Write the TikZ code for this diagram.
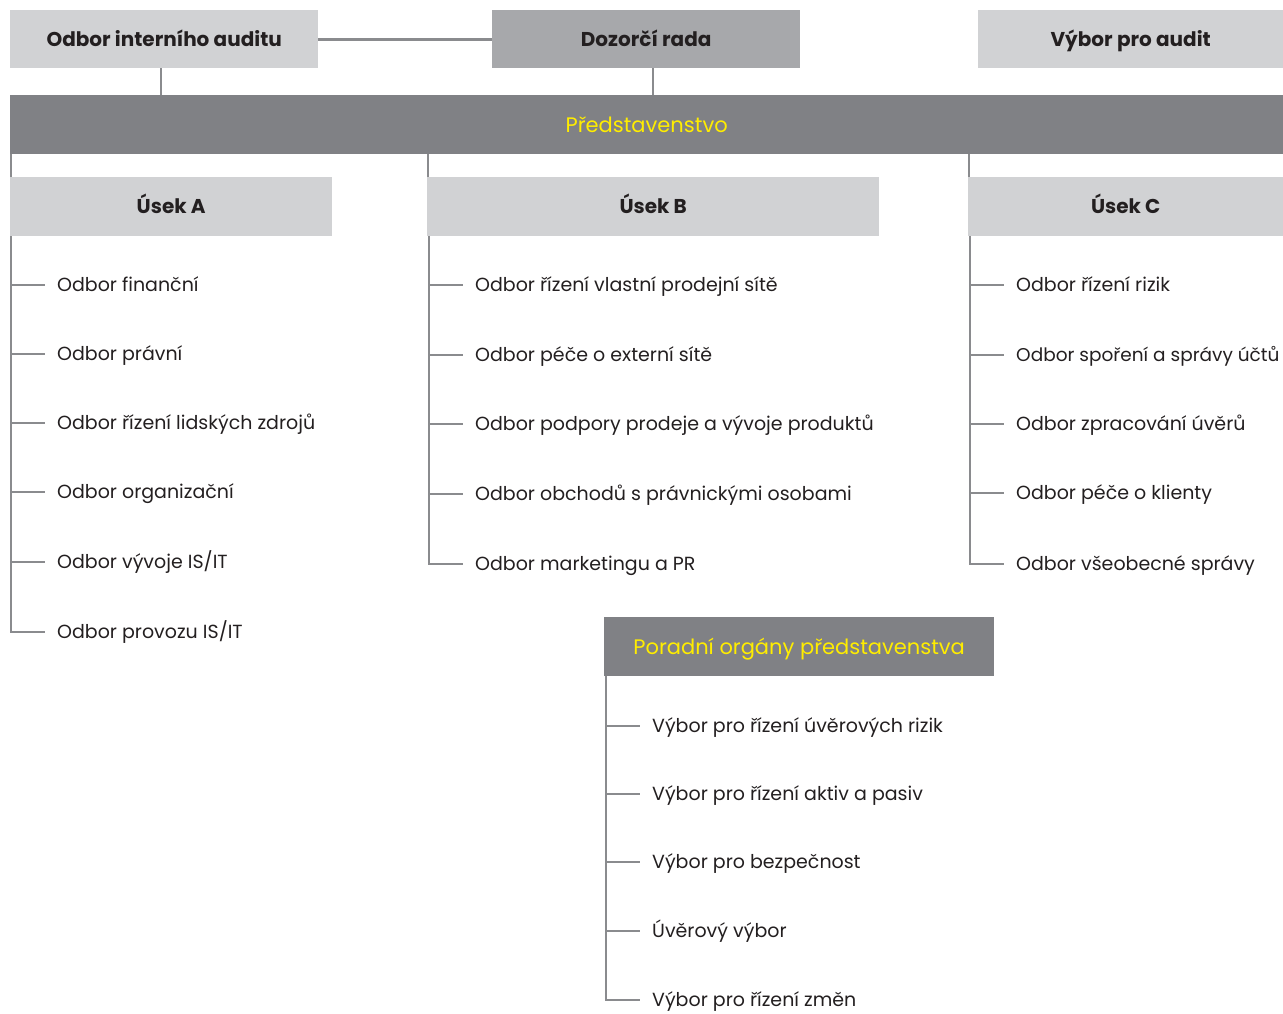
\documentclass[tikz,border=0pt]{standalone}
\usepackage{fontspec}
\setmainfont{Poppins}
\definecolor{lightbox}{HTML}{D1D2D4}
\definecolor{midbox}{HTML}{A7A8AB}
\definecolor{darkbox}{HTML}{808185}
\definecolor{linec}{HTML}{8A8B8E}
\definecolor{yellowt}{HTML}{FFED00}
\definecolor{textc}{HTML}{231F20}
\begin{document}
\begin{tikzpicture}[x=1pt,y=-1pt,
  conn/.style={draw=linec,line width=2.6pt},
  boxbase/.style={draw=none,inner sep=0pt,anchor=north west,text height=14pt,text depth=0pt,font=\fontsize{20}{24}\selectfont\bfseries,text=textc},
  lightb/.style={boxbase,fill=lightbox},
  midb/.style={boxbase,fill=midbox},
  darkb/.style={boxbase,fill=darkbox,text=yellowt,text height=14.7pt,font=\fontsize{21}{24}\selectfont},
  item/.style={anchor=west,inner xsep=12pt,inner ysep=0pt,text height=13.3pt,text depth=0pt,font=\fontsize{19}{23}\selectfont,text=textc}
]
\useasboundingbox (0,0) rectangle (1283,1013);
% top boxes
\node[lightb,minimum width=308pt,minimum height=58pt] (ia) at (10,10) {Odbor interního auditu};
\node[midb,minimum width=308pt,minimum height=58pt] (dr) at (492,10) {Dozorčí rada};
\node[lightb,minimum width=305pt,minimum height=58pt] (va) at (978,10) {Výbor pro audit};
\node[darkb,minimum width=1273pt,minimum height=59pt] (pr) at (10,95) {Představenstvo};
\draw[conn] (ia.east) -- (dr.west);
\draw[conn] (161,68) -- (161,95);
\draw[conn] (653,68) -- (653,95);
% sections
\node[lightb,minimum width=322pt,minimum height=59pt] (ua) at (10,177) {Úsek A};
\node[lightb,minimum width=452pt,minimum height=59pt] (ub) at (427,177) {Úsek B};
\node[lightb,minimum width=315pt,minimum height=59pt] (uc) at (968,177) {Úsek C};
\draw[conn] (11,154) -- (11,177);
\draw[conn] (428,154) -- (428,177);
\draw[conn] (969,154) -- (969,177);
% list A
\foreach \y/\t [count=\i] in {285/{Odbor finanční},354/{Odbor právní},423/{Odbor řízení lidských zdrojů},492/{Odbor organizační},562/{Odbor vývoje IS/IT},632/{Odbor provozu IS/IT}}{
  \node[item] (a\i) at (45,\y) {\t};
  \draw[conn] (11,\y) -- (a\i.west);
}
\draw[conn] (11,236) -- (11,633.3);
% list B
\foreach \y/\t [count=\i] in {285/{Odbor řízení vlastní prodejní sítě},355/{Odbor péče o externí sítě},424/{Odbor podpory prodeje a vývoje produktů},494/{Odbor obchodů s právnickými osobami},564/{Odbor marketingu a PR}}{
  \node[item] (b\i) at (463,\y) {\t};
  \draw[conn] (429,\y) -- (b\i.west);
}
\draw[conn] (429,236) -- (429,565.3);
% list C
\foreach \y/\t [count=\i] in {285/{Odbor řízení rizik},355/{\fontsize{18.5}{23}\selectfont Odbor spoření a správy účtů},424/{Odbor zpracování úvěrů},493/{Odbor péče o klienty},564/{Odbor všeobecné správy}}{
  \node[item] (c\i) at (1004,\y) {\t};
  \draw[conn] (970,\y) -- (c\i.west);
}
\draw[conn] (970,236) -- (970,565.3);
% advisory
\node[darkb,minimum width=390pt,minimum height=59pt] (po) at (604,617) {Poradní orgány představenstva};
\foreach \y/\t [count=\i] in {726/{Výbor pro řízení úvěrových rizik},794/{Výbor pro řízení aktiv a pasiv},862/{Výbor pro bezpečnost},931/{Úvěrový výbor},1000/{Výbor pro řízení změn}}{
  \node[item] (p\i) at (640,\y) {\t};
  \draw[conn] (606,\y) -- (p\i.west);
}
\draw[conn] (606,676) -- (606,1001.3);
\end{tikzpicture}
\end{document}
